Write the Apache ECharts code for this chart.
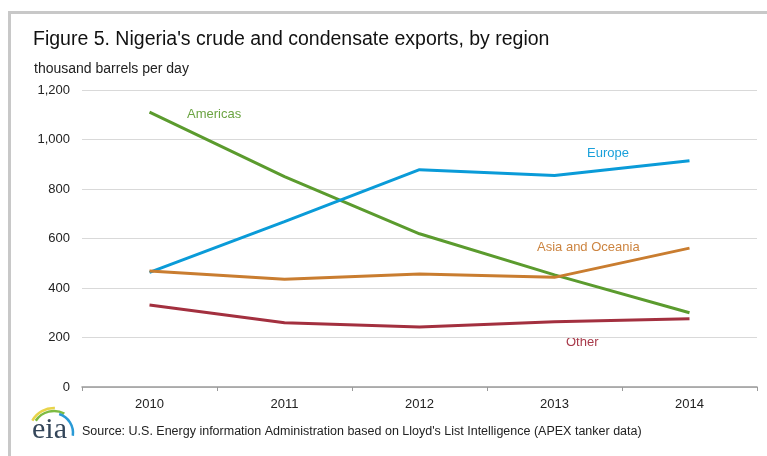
<!DOCTYPE html>
<html>
<head>
<meta charset="utf-8">
<script src="https://cdn.jsdelivr.net/npm/echarts@6/dist/echarts.min.js"></script>
<style>
  html, body { margin: 0; padding: 0; background: #fff; }
  #chart { width: 767px; height: 456px; }
</style>
</head>
<body>
<div id="chart"></div>
<script>
const years = ['2010', '2011', '2012', '2013', '2014'];
const americas = [1111, 850, 619, 453, 300];
const europe = [463, 668, 878, 855, 914];
const asiaOceania = [469, 435, 457, 443, 561];
const other = [331, 260, 242, 264, 276];
const yMin = 0, yMax = 1200, yStep = 200;

const titleText = "Figure 5. Nigeria's crude and condensate exports, by region";
const unitText = 'thousand barrels per day';
const sourceText = "Source: U.S. Energy information Administration based on Lloyd's List Intelligence (APEX tanker data)";

const C_AM = '#5B9B2E', C_EU = '#0A9BD8', C_AS = '#C97D30', C_OT = '#A3303F';
const FONT = 'Liberation Sans, Arial, sans-serif';

const chart = echarts.init(document.getElementById('chart'), null, { renderer: 'canvas' });

function line(name, data, color) {
  return {
    name, type: 'line', data, symbol: 'none', smooth: false,
    lineStyle: { color, width: 3 }, itemStyle: { color },
    emphasis: { disabled: true }, z: 3
  };
}

function arc(cx, cy, r, a0, a1, color) {
  return {
    type: 'arc',
    shape: { cx, cy, r, startAngle: a0 * Math.PI / 180, endAngle: a1 * Math.PI / 180, clockwise: true },
    style: { stroke: color, fill: null, lineWidth: 2.5 },
    silent: true
  };
}

function label(text, x, y, color) {
  return {
    type: 'text', x, y,
    style: { text, fill: color, font: '13px ' + FONT, textAlign: 'left', textVerticalAlign: 'middle' },
    silent: true
  };
}

chart.setOption({
  animation: false,
  backgroundColor: '#fff',
  grid: { left: 82, right: 10, top: 90, bottom: 69, containLabel: false },
  xAxis: {
    type: 'category', data: years, boundaryGap: true,
    axisLine: { show: true, lineStyle: { color: '#9a9a9a', width: 1.5 } },
    axisTick: { show: true, length: 4, lineStyle: { color: '#9a9a9a' } },
    axisLabel: { color: '#222', fontSize: 13, fontFamily: FONT, margin: 11 },
    splitLine: { show: false }
  },
  yAxis: {
    type: 'value', min: yMin, max: yMax, interval: yStep,
    axisLine: { show: false }, axisTick: { show: false },
    axisLabel: {
      color: '#222', fontSize: 13, fontFamily: FONT, margin: 12,
      formatter: v => v.toLocaleString('en-US')
    },
    splitLine: { show: true, lineStyle: { color: '#d9d9d9', width: 1.2 } }
  },
  series: [
    line('Americas', americas, C_AM),
    line('Europe', europe, C_EU),
    line('Asia and Oceania', asiaOceania, C_AS),
    line('Other', other, C_OT)
  ],
  graphic: [
    { type: 'line', shape: { x1: 8, y1: 12.5, x2: 767, y2: 12.5 }, style: { stroke: '#c8c8c8', lineWidth: 3 }, silent: true },
    { type: 'line', shape: { x1: 9.5, y1: 11, x2: 9.5, y2: 456 }, style: { stroke: '#c8c8c8', lineWidth: 3 }, silent: true },
    {
      type: 'text', x: 33, y: 40,
      style: { text: titleText, fill: '#111', font: '19.5px ' + FONT, textAlign: 'left', textVerticalAlign: 'middle' },
      silent: true
    },
    {
      type: 'text', x: 34, y: 69,
      style: { text: unitText, fill: '#222', font: '14px ' + FONT, textAlign: 'left', textVerticalAlign: 'middle' },
      silent: true
    },
    label('Americas', 187, 114, '#6BA442'),
    label('Europe', 587, 153, '#1AA0DA'),
    label('Asia and Oceania', 537, 247, '#CC8440'),
    label('Other', 566, 342, '#A83A4A'),
    {
      type: 'text', x: 82, y: 432,
      style: { text: sourceText, fill: '#222', font: '12.5px ' + FONT, textAlign: 'left', textVerticalAlign: 'middle' },
      silent: true
    },
    {
      type: 'text', x: 32, y: 430,
      style: { text: 'eia', fill: '#34465a', font: '30px Liberation Serif, DejaVu Serif, serif', textAlign: 'left', textVerticalAlign: 'middle' },
      silent: true
    },
    arc(54, 433, 25, -150, -88, '#E8D44A'),
    arc(54, 433, 22, -146, -62, '#7DBB42'),
    arc(53, 433, 20, -72, 8, '#2A9AD6')
  ]
});
</script>
</body>
</html>
